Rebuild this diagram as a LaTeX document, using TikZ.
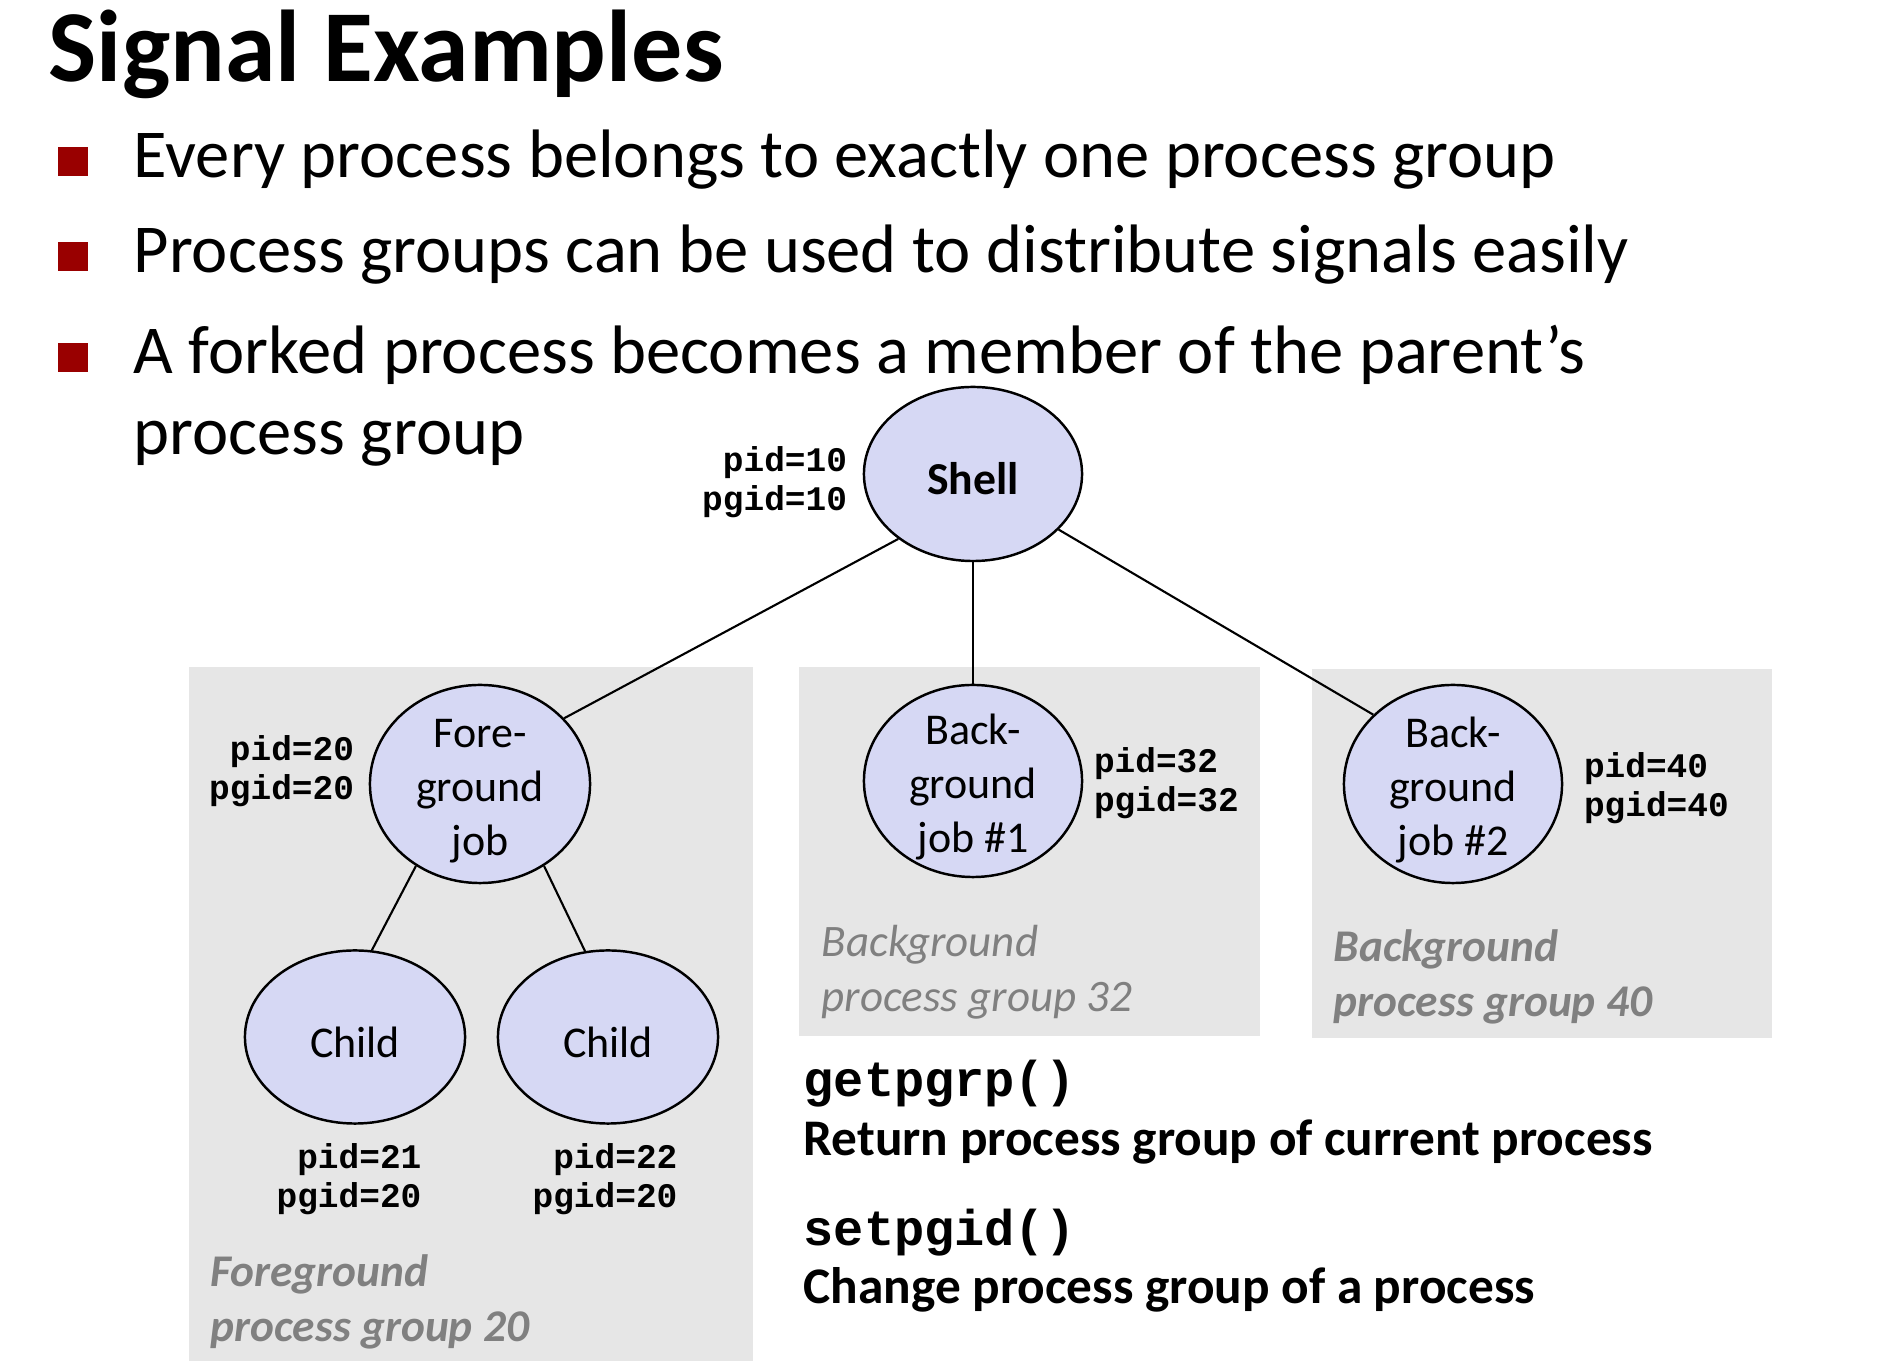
\documentclass[tikz,border=0pt]{standalone}
\usepackage{fontspec}
\setmainfont{Carlito}
\setmonofont{Liberation Mono}
\usetikzlibrary{positioning}
\usetikzlibrary{shapes.geometric}
\definecolor{jobFill}{RGB}{214,216,244}
\definecolor{groupGray}{RGB}{230,230,230}
\definecolor{bulletRed}{RGB}{153,0,0}
\definecolor{labelGray}{RGB}{128,128,128}
\newcommand{\jobTop}{\rule{0pt}{12pt}}
\tikzset{%
	% Specifications for style of nodes:
	job/.style = {ellipse, draw=black, line width=0.7pt, fill=jobFill,
		minimum width=2.18cm, inner xsep=0pt, inner ysep=-3mm,
		execute at begin node={\jobTop},
		align=center, font=\fontsize{12.5}{15.4}\selectfont},
	jobLines/.style = {job, execute at begin node={}},
	groupBox/.style = {rectangle, fill=groupGray, inner sep=0pt, anchor=north west},
	groupLabel/.style = {anchor=west, align=left, inner sep=0pt, text=labelGray,
		font=\fontsize{12.8}{15.6}\selectfont\itshape},
	ids/.style = {align=right, inner sep=0pt, font=\fontsize{9.8}{11.1}\selectfont\ttfamily\bfseries},
	bullet/.style = {rectangle, fill=bulletRed, minimum size=0.29cm, inner sep=0pt},
	point/.style = {anchor=base west, inner sep=0pt, font=\fontsize{19.5}{23}\selectfont},
	call/.style = {anchor=west, inner sep=0pt, align=left, font=\fontsize{14.6}{16.5}\selectfont\bfseries},
	link/.style = {line width=0.6pt}
}

\begin{document}
\begin{tikzpicture}[x=0.01cm, y=-0.01cm]
	\useasboundingbox (0,0) rectangle (1902,1368);
	\node (title) [anchor=base west, inner sep=0pt, font=\fontsize{29}{32}\selectfont\bfseries] at (48,82) {Signal Examples};
	\foreach \txt/\y [count=\i] in {{Every process belongs to exactly one process group}/178,
		{Process groups can be used to distribute signals easily}/273,
		{A forked process becomes a member of the parent’s}/374} {
		\node (point\i) [point] at (133,\y) {\txt};
		\node (mark\i) [bullet] at (73,\y-16) {};
	}
	\node (point3b) [point] at (133,455) {process group};
	% process groups
	\node (fgBox) [groupBox, minimum width=5.64cm, minimum height=6.94cm] at (188,666) {};
	\node (bgBoxA) [groupBox, minimum width=4.61cm, minimum height=3.69cm] at (798,666) {};
	\node (bgBoxB) [groupBox, minimum width=4.60cm, minimum height=3.69cm] at (1311,668) {};
	\node (fgLabel) [groupLabel, font=\fontsize{12.9}{15.6}\selectfont\bfseries\itshape] at (210,1302) {Foreground\\process group 20};
	\node (bgLabelA) [groupLabel] at (821,972) {Background\\process group 32};
	\node (bgLabelB) [groupLabel, font=\fontsize{12.9}{15.6}\selectfont\bfseries\itshape] at (1333,977) {Background\\process group 40};
	% processes
	\node (shell) [job, minimum height=1.74cm, font=\fontsize{13}{15.4}\selectfont\bfseries] at (973,474) {Shell};
	\node (fore) [jobLines, minimum width=2.2cm, minimum height=1.98cm] at (480,784) {\jobTop Fore-\\ground\\job};
	\node (childA) [job, minimum width=2.2cm, minimum height=1.73cm] at (355,1037) {Child};
	\node (childB) [job, minimum width=2.2cm, minimum height=1.73cm] at (608,1037) {Child};
	\node (bgJobA) [jobLines, minimum height=1.92cm] at (973,781) {\jobTop Back-\\ground\\job \#1};
	\node (bgJobB) [jobLines, minimum height=1.98cm] at (1453,784) {\jobTop Back-\\ground\\job \#2};
	\draw[link] (shell.221) -- (fore.38);
	\draw[link] (shell.south) -- (bgJobA.north);
	\draw[link] (shell.327) -- (bgJobB.139);
	\draw[link] (fore.232) -- (childA.79);
	\draw[link] (fore.308) -- (childB.105);
	% ids
	\node (shellIds) [ids, left=1.5mm of shell, yshift=-0.85mm] {pid=10\\pgid=10};
	\node (foreIds) [ids, left=1.4mm of fore, yshift=1.3mm] {pid=20\\pgid=20};
	\node (childAIds) [ids, below=1.8mm of childA, xshift=-0.6mm] {pid=21\\pgid=20};
	\node (childBIds) [ids, below=1.8mm of childB, xshift=-0.3mm] {pid=22\\pgid=20};
	\node (bgJobAIds) [ids, align=left, right=1.0mm of bgJobA, yshift=-0.2mm] {pid=32\\pgid=32};
	\node (bgJobBIds) [ids, align=left, right=2.0mm of bgJobB, yshift=-0.4mm] {pid=40\\pgid=40};
	% calls
	\node (getCall) [call, font=\fontsize{14.3}{16.5}\selectfont\ttfamily\bfseries] at (803,1084) {getpgrp()};
	\node (getDesc) [call] at (803,1142) {Return process group of current process};
	\node (setCall) [call, font=\fontsize{14.3}{16.5}\selectfont\ttfamily\bfseries] at (803,1233) {setpgid()};
	\node (setDesc) [call] at (803,1290) {Change process group of a process};
\end{tikzpicture}
\end{document}
